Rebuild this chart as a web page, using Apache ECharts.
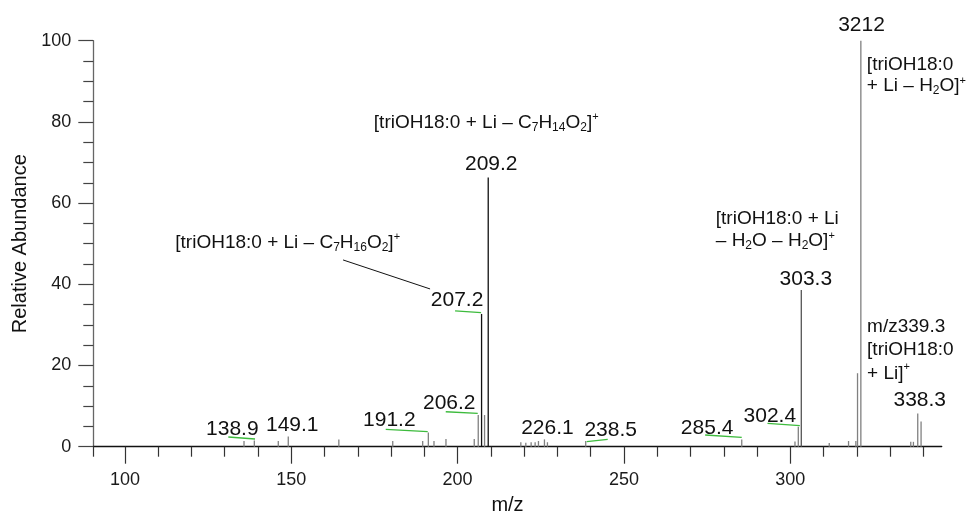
<!DOCTYPE html>
<html><head><meta charset="utf-8">
<script src="https://cdn.jsdelivr.net/npm/echarts@6/dist/echarts.min.js"></script>
<style>html,body{margin:0;padding:0;background:#fff}#c{width:968px;height:512px}</style>
</head><body><div id="c"></div>
<script>
// ---- data ----
const peakMz = [135.8, 138.9, 146.1, 149.1, 164.3, 180.5, 189.5, 191.2, 192.9, 196.5, 205.0, 206.2, 207.2, 208.1, 209.2, 219.0, 220.5, 222.1, 223.3, 224.3, 226.1, 227.0, 238.5, 285.4, 301.4, 302.4, 303.3, 311.7, 317.5, 319.7, 320.2, 321.2, 336.2, 337.0, 338.3, 339.3];
const peakAbund = [1.4, 1.5, 1.4, 2.5, 1.8, 1.4, 1.4, 3.5, 1.4, 1.9, 1.9, 7.8, 32.7, 7.8, 66.3, 1.1, 1.0, 1.1, 1.1, 1.4, 1.8, 1.1, 1.4, 1.8, 1.3, 4.9, 38.6, 0.9, 1.4, 1.4, 18.1, 100, 1.2, 1.2, 8.2, 6.2];
const labelMz = [138.9, 149.1, 191.2, 206.2, 207.2, 209.2, 226.1, 238.5, 285.4, 302.4, 303.3, 321.2, 338.3];
const labelText = ['138.9', '149.1', '191.2', '206.2', '207.2', '209.2', '226.1', '238.5', '285.4', '302.4', '303.3', '3212', '338.3'];
const annotMz = [209.2, 207.2, 303.3, 321.2, 339.3];
const annotText = [
  '[triOH18:0 + Li – C{s|7}H{s|14}O{s|2}]{p|+}',
  '[triOH18:0 + Li – C{s|7}H{s|16}O{s|2}]{p|+}',
  '[triOH18:0 + Li\n– H{s|2}O – H{s|2}O]{p|+}',
  '[triOH18:0\n+ Li – H{s|2}O]{p|+}',
  'm/z339.3\n[triOH18:0\n+ Li]{p|+}'
];
const xMajorTicks = [100, 150, 200, 250, 300];
const xMinorTicks = [90.5, 110, 120, 130, 140, 160, 170, 180, 190, 210, 220, 230, 240, 260, 270, 280, 290, 310, 320, 330, 340];

// ---- layout / style (pixel offsets from the peak top) ----
const darkPeaks = [207.2, 209.2];
const midPeaks = [303.3];
const labelLayout = [
  {dx: -22, dy: -11, lead: [-26, -3.6, 0.7, -1.6]},
  {dx: 4, dy: -11},
  {dx: -39, dy: -12, lead: [-42.6, -3.2, -0.6, -0.8]},
  {dx: -29, dy: -11.5, lead: [-32.5, -3.3, -0.5, -1.7]},
  {dx: -24.5, dy: -13.5, lead: [-26.5, -3, -0.5, -1.3]},
  {dx: 3, dy: -13},
  {dx: 3, dy: -11.4},
  {dx: 25, dy: -10.5, lead: [1, 0.7, 22, -1.7]},
  {dx: -34.6, dy: -11.4, lead: [-36.6, -4.4, 0, -2.1]},
  {dx: -28.5, dy: -11, lead: [-30.8, -3.5, 1.5, -1.1]},
  {dx: 4.5, dy: -11},
  {dx: 0.7, dy: -15},
  {dx: 2, dy: -13.4}
];
const annotLayout = [
  {dx: -2, dy: -54.7, align: 'center', lh: 22},
  {dx: -81.5, dy: -71, align: 'right', lh: 22, lead: [-138.5, -54, -51.5, -25]},
  {dx: -85.5, dy: -59.8, align: 'left', lh: 22},
  {dx: 6, dy: 34.5, align: 'left', lh: 21},
  {dx: -54, dy: -71.5, align: 'left', lh: 23.5}
];
const FONT = '"Liberation Sans", Arial, Helvetica, sans-serif';
const richStyles = {
  s: {fontSize: 12, lineHeight: 12, verticalAlign: 'bottom', fontFamily: FONT, fill: '#111'},
  p: {fontSize: 11, lineHeight: 16, verticalAlign: 'top', fontFamily: FONT, fill: '#111'}
};

function abundAt(m) { return peakAbund[peakMz.indexOf(m)]; }

const chart = echarts.init(document.getElementById('c'), null, {renderer: 'canvas'});
const xCommon = {type: 'value', min: 90.5, max: 345.5, splitLine: {show: false}, gridIndex: 0};
chart.setOption({
  animation: false,
  backgroundColor: '#fff',
  grid: {left: 93.3, right: 26.3, top: 40.7, bottom: 65.3, containLabel: false, outerBoundsMode: 'none'},
  xAxis: [
    Object.assign({}, xCommon, {
      position: 'bottom',
      name: 'm/z', nameLocation: 'middle', nameGap: 49,
      nameTextStyle: {fontSize: 20, fontFamily: FONT, color: '#111', padding: [0, 20, 0, 0]},
      axisLine: {show: true, onZero: false, lineStyle: {color: '#111', width: 1.3}},
      axisTick: {show: true, inside: false, customValues: xMinorTicks, length: 10, lineStyle: {color: '#333', width: 1.2}},
      axisLabel: {show: true, customValues: xMajorTicks, margin: 24, fontSize: 18, fontFamily: FONT, color: '#1a1a1a'}
    }),
    Object.assign({}, xCommon, {
      position: 'bottom', offset: 0,
      axisLine: {show: false, onZero: false},
      axisTick: {show: true, inside: false, customValues: xMajorTicks, length: 17, lineStyle: {color: '#333', width: 1.2}},
      axisLabel: {show: false}
    })
  ],
  yAxis: {
    type: 'value', min: 0, max: 100, interval: 20,
    name: 'Relative Abundance', nameLocation: 'middle', nameGap: 63,
    nameTextStyle: {fontSize: 20, fontFamily: FONT, color: '#111'},
    axisLine: {show: true, lineStyle: {color: '#666', width: 1.3}},
    axisTick: {show: true, length: 15, lineStyle: {color: '#444', width: 1.2}},
    minorTick: {show: true, splitNumber: 4, length: 10, lineStyle: {color: '#444', width: 1.2}},
    axisLabel: {margin: 22, fontSize: 18, fontFamily: FONT, color: '#1a1a1a'},
    splitLine: {show: false}
  },
  series: [
    {
      type: 'custom', xAxisIndex: 0, yAxisIndex: 0, z: 3,
      data: peakMz.map((m, i) => [m, peakAbund[i]]),
      encode: {x: 0, y: 1},
      renderItem: function (params, api) {
        const m = api.value(0);
        const top = api.coord([m, api.value(1)]);
        const base = api.coord([m, 0]);
        const col = darkPeaks.indexOf(m) >= 0 ? '#111' : (midPeaks.indexOf(m) >= 0 ? '#555' : '#808080');
        return {type: 'line', shape: {x1: top[0], y1: top[1], x2: base[0], y2: base[1]},
          style: {stroke: col, lineWidth: 1.3}};
      }
    },
    {
      type: 'custom', xAxisIndex: 0, yAxisIndex: 0, z: 4, silent: true,
      data: labelMz.map((m) => [m, abundAt(m)]),
      encode: {x: 0, y: 1},
      renderItem: function (params, api) {
        const i = params.dataIndex;
        const p = api.coord([api.value(0), api.value(1)]);
        const L = labelLayout[i];
        const children = [{
          type: 'text', x: p[0] + L.dx, y: p[1] + L.dy,
          style: {text: labelText[i], fontSize: 21, fontFamily: FONT, fill: '#111',
            align: 'center', verticalAlign: 'middle', textAlign: 'center', textVerticalAlign: 'middle'}
        }];
        if (L.lead) {
          children.push({type: 'line', shape: {x1: p[0] + L.lead[0], y1: p[1] + L.lead[1], x2: p[0] + L.lead[2], y2: p[1] + L.lead[3]},
            style: {stroke: '#3dbb3d', lineWidth: 1.3}});
        }
        return {type: 'group', children: children};
      }
    },
    {
      type: 'custom', xAxisIndex: 0, yAxisIndex: 0, z: 4, silent: true,
      data: annotMz.map((m) => [m, abundAt(m)]),
      encode: {x: 0, y: 1},
      renderItem: function (params, api) {
        const i = params.dataIndex;
        const p = api.coord([api.value(0), api.value(1)]);
        const L = annotLayout[i];
        const children = [{
          type: 'text', x: p[0] + L.dx, y: p[1] + L.dy,
          style: {text: annotText[i], fontSize: 19, fontFamily: FONT, fill: '#111', lineHeight: L.lh,
            rich: richStyles,
            align: L.align, verticalAlign: 'middle', textAlign: L.align, textVerticalAlign: 'middle'}
        }];
        if (L.lead) {
          children.push({type: 'line', shape: {x1: p[0] + L.lead[0], y1: p[1] + L.lead[1], x2: p[0] + L.lead[2], y2: p[1] + L.lead[3]},
            style: {stroke: '#111', lineWidth: 1}});
        }
        return {type: 'group', children: children};
      }
    }
  ]
});
</script>
</body></html>
